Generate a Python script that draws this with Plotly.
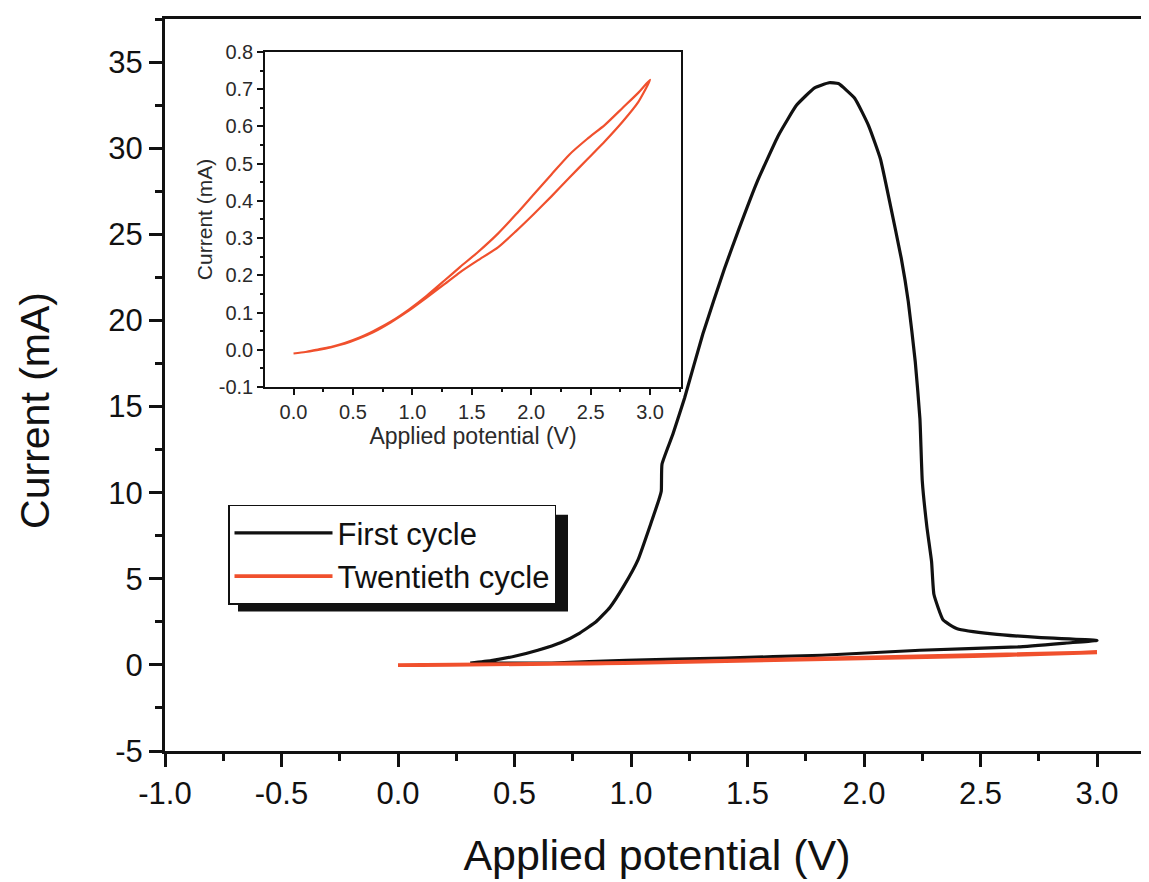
import plotly.graph_objects as go

# ---------------- data ----------------
first_x = [0.31, 0.40, 0.50, 0.60, 0.70, 0.78, 0.85, 0.91, 0.97, 1.03, 1.09, 1.12, 1.13, 1.133,
           1.18, 1.23, 1.308, 1.401, 1.463, 1.54, 1.633, 1.711, 1.788, 1.85, 1.89, 1.96, 2.02,
           2.07, 2.11, 2.16, 2.19, 2.22, 2.24, 2.25, 2.27, 2.29, 2.30, 2.34, 2.40, 2.55,
           2.76, 3.00, 2.87, 2.66, 2.24, 1.82, 1.40, 0.98, 0.66, 0.34]
first_y = [0.10, 0.25, 0.50, 0.85, 1.30, 1.85, 2.50, 3.35, 4.60, 6.10, 8.40, 9.60, 10.1, 11.65,
           13.4, 15.5, 19.2, 23.0, 25.3, 28.0, 30.75, 32.5, 33.5, 33.8, 33.75, 32.9, 31.3,
           29.4, 26.9, 23.6, 21.1, 17.6, 14.3, 10.7, 8.0, 6.0, 4.1, 2.6, 2.1, 1.8,
           1.58, 1.42, 1.27, 1.04, 0.85, 0.56, 0.40, 0.27, 0.11, 0.11]

twentieth_x = [0.00, 0.10, 0.22, 0.32, 0.43, 0.55, 0.67, 0.82, 0.97, 1.12, 1.27, 1.40, 1.55, 1.72,
               1.87, 2.02, 2.17, 2.32, 2.47, 2.62, 2.77, 2.90, 3.00,
               2.90, 2.77, 2.62, 2.47, 2.32, 2.17, 2.02, 1.87, 1.72, 1.55, 1.40, 1.27, 1.12,
               0.97, 0.82, 0.67, 0.55, 0.43, 0.32, 0.22, 0.10, 0.00]
twentieth_y = [-0.010, -0.006, 0.000, 0.007, 0.016, 0.030, 0.047, 0.074, 0.105, 0.140, 0.176, 0.208,
               0.240, 0.275, 0.318, 0.364, 0.412, 0.462, 0.511, 0.560, 0.613, 0.665, 0.725,
               0.690, 0.650, 0.604, 0.566, 0.524, 0.471, 0.417, 0.363, 0.312, 0.262, 0.222,
               0.186, 0.145, 0.108, 0.076, 0.050, 0.032, 0.018, 0.008, 0.002, -0.006, -0.010]

series_names = ["First cycle", "Twentieth cycle"]

main_xticks = [-1.0, -0.5, 0.0, 0.5, 1.0, 1.5, 2.0, 2.5, 3.0]
main_xlabels = ["-1.0", "-0.5", "0.0", "0.5", "1.0", "1.5", "2.0", "2.5", "3.0"]
main_yticks = [-5, 0, 5, 10, 15, 20, 25, 30, 35]
main_ylabels = ["-5", "0", "5", "10", "15", "20", "25", "30", "35"]

inset_xticks = [0.0, 0.5, 1.0, 1.5, 2.0, 2.5, 3.0]
inset_xlabels = ["0.0", "0.5", "1.0", "1.5", "2.0", "2.5", "3.0"]
inset_yticks = [-0.1, 0.0, 0.1, 0.2, 0.3, 0.4, 0.5, 0.6, 0.7, 0.8]
inset_ylabels = ["-0.1", "0.0", "0.1", "0.2", "0.3", "0.4", "0.5", "0.6", "0.7", "0.8"]

BLACK = "#111111"
RED = "#F0502D"
FONT = "Arial, Liberation Sans, sans-serif"

fig = go.Figure()
fig.add_trace(go.Scatter(x=first_x, y=first_y, mode="lines", name=series_names[0],
                         line=dict(color=BLACK, width=3.2, shape="spline", smoothing=0.4),
                         xaxis="x", yaxis="y"))
fig.add_trace(go.Scatter(x=twentieth_x, y=twentieth_y, mode="lines", name=series_names[1],
                         line=dict(color=RED, width=3.8), xaxis="x", yaxis="y"))
fig.add_trace(go.Scatter(x=twentieth_x, y=twentieth_y, mode="lines", name=series_names[1],
                         showlegend=False, line=dict(color=RED, width=2.2, shape="spline", smoothing=0.6),
                         xaxis="x2", yaxis="y2"))

# page has an 8px body margin; figure is sized so the plot area lands where the reference has it
OFF = 8
L, R, T, B = 165 - OFF, 0, 17 - OFF, 131
W, H = 1149 - OFF, 882 - OFF
pw, ph = W - L - R, H - T - B


def px(xp):  # page pixel -> paper fraction
    return (xp - OFF - L) / pw


def py(yp):
    return (H - B - (yp - OFF)) / ph


fig.update_layout(
    width=W, height=H,
    margin=dict(l=L, r=R, t=T, b=B),
    paper_bgcolor="white", plot_bgcolor="white",
    font=dict(family=FONT, color=BLACK),
    showlegend=True,
    legend=dict(x=px(228), y=py(504), xanchor="left", yanchor="top",
                bgcolor="white", bordercolor=BLACK, borderwidth=1.5,
                font=dict(size=31, family=FONT, color=BLACK),
                tracegroupgap=0, itemwidth=98),
    xaxis=dict(domain=[0, 1], range=[-1.0, -1.0 + pw / 233.0], anchor="y",
               showline=True, linecolor=BLACK, linewidth=3, mirror=True,
               showgrid=False, zeroline=False,
               tickmode="array", tickvals=main_xticks, ticktext=main_xlabels,
               ticks="outside", ticklen=13, tickwidth=2.5, tickcolor=BLACK,
               minor=dict(dtick=0.25, tick0=0, ticks="outside", ticklen=7, tickwidth=2.5,
                          tickcolor=BLACK, showgrid=False),
               tickfont=dict(size=31, family=FONT, color=BLACK),
               title=dict(text="Applied potential (V)", font=dict(size=43, family=FONT, color=BLACK),
                          standoff=30)),
    yaxis=dict(domain=[0, 1], range=[-5, 37.5], anchor="x",
               showline=True, linecolor=BLACK, linewidth=3, mirror=False,
               showgrid=False, zeroline=False,
               tickmode="array", tickvals=main_yticks, ticktext=main_ylabels,
               ticks="outside", ticklen=13, tickwidth=2.5, tickcolor=BLACK,
               minor=dict(dtick=2.5, tick0=0, ticks="outside", ticklen=7, tickwidth=2.5,
                          tickcolor=BLACK, showgrid=False),
               tickfont=dict(size=31, family=FONT, color=BLACK)),
    xaxis2=dict(domain=[px(265), px(681)], range=[-0.24, 3.26], anchor="y2",
                showline=True, linecolor=BLACK, linewidth=1.5, mirror=True,
                showgrid=False, zeroline=False,
                tickmode="array", tickvals=inset_xticks, ticktext=inset_xlabels,
                ticks="outside", ticklen=6, tickwidth=1.5, tickcolor=BLACK,
                minor=dict(dtick=0.25, tick0=0, ticks="outside", ticklen=3.5, tickwidth=1.5,
                           tickcolor=BLACK, showgrid=False),
                tickfont=dict(size=20, family=FONT, color="#2a2a2a"),
                title=dict(text="Applied potential (V)", font=dict(size=23, family=FONT, color="#2a2a2a"),
                           standoff=2)),
    yaxis2=dict(domain=[py(386), py(50)], range=[-0.1, 0.8], anchor="x2",
                showline=True, linecolor=BLACK, linewidth=1.5, mirror=True,
                showgrid=False, zeroline=False,
                tickmode="array", tickvals=inset_yticks, ticktext=inset_ylabels,
                ticks="outside", ticklen=6, tickwidth=1.5, tickcolor=BLACK,
                minor=dict(dtick=0.05, tick0=0, ticks="outside", ticklen=3.5, tickwidth=1.5,
                           tickcolor=BLACK, showgrid=False),
                tickfont=dict(size=20, family=FONT, color="#2a2a2a"),
                title=dict(text="Current (mA)", font=dict(size=21, family=FONT, color="#2a2a2a"),
                           standoff=0)),
)

# legend drop shadow
fig.add_shape(type="rect", xref="paper", yref="paper",
              x0=px(238), x1=px(568), y0=py(611), y1=py(514),
              fillcolor=BLACK, line=dict(width=0), layer="above")

# main y-axis title
fig.add_annotation(text="Current (mA)", xref="paper", yref="paper",
                   x=px(35), y=py(410), xanchor="center", yanchor="middle",
                   textangle=-90, showarrow=False,
                   font=dict(size=41, family=FONT, color=BLACK))

fig.write_html("out.html")
